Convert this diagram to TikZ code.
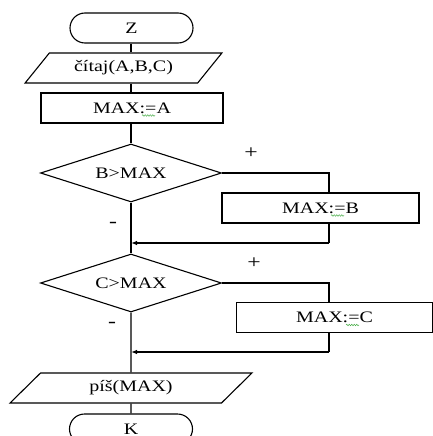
\documentclass[tikz,border=0pt]{standalone}
\usepackage{fontspec}
\setmainfont{Liberation Serif}[FakeStretch=1.25]
\usetikzlibrary{shapes.geometric,arrows.meta,decorations.pathmorphing}
\begin{document}
\begin{tikzpicture}[x=1pt,y=-1pt,
  every node/.style={font=\fontsize{16}{19}\selectfont, line width=1.1pt},
  term/.style={draw, rounded corners=15pt, minimum width=123pt, minimum height=30pt, inner sep=0pt},
  io/.style={draw, trapezium, trapezium stretches=true, minimum height=30pt, inner sep=0pt},
  proc/.style={draw, rectangle, minimum height=30pt, inner sep=0pt},
  dec/.style={draw, diamond, minimum width=181pt, minimum height=58pt, inner sep=0pt, aspect=3},
  flow/.style={line width=1.1pt},
  arr/.style={flow, -{Latex[length=6pt,width=4.5pt]}},
  sign/.style={font=\fontsize{19}{21}\selectfont},
  squig/.style={draw=black!45!green!70, line width=0.5pt, decorate, decoration={snake, segment length=2.5pt, amplitude=0.8pt}}]
\clip (0,0) rectangle (433,436);
\fill[white] (0,0) rectangle (433,436);
\node[term] (z) at (131.5,28) {Z};
\node[io, minimum width=197pt, trapezium left angle=42, trapezium right angle=138] (read) at (123.5,68) {čítaj(A,B,C)};
\node[proc, minimum width=182pt] (ma) at (132,108) {MAX:=A};
\node[dec] (b) at (131,173) {B>MAX};
\node[proc, minimum width=197pt] (mb) at (320.5,208) {MAX:=B};
\node[dec] (c) at (131,283) {C>MAX};
\node[proc, minimum width=196pt] (mc) at (334.5,317.5) {MAX:=C};
\node[io, minimum width=242pt, trapezium left angle=46, trapezium right angle=134] (write) at (131,388) {píš(MAX)};
\node[term] (k) at (131,429) {K};
\node[sign] (p1) at (251,153) {+};
\node[sign] (m1) at (113,225) {-};
\node[sign] (p2) at (254,263) {+};
\node[sign] (m2) at (112,325) {-};
\coordinate (jb) at (329,173);
\coordinate (kb) at (329,243);
\coordinate (jc) at (329,283);
\coordinate (kc) at (329,352);
\draw[flow] (b.north |- z.south) -- (b.north |- read.north);
\draw[flow] (b.north |- read.south) -- (b.north |- ma.north);
\draw[flow] (b.north |- ma.south) -- (b.north);
\draw[flow] (b.east) -- (jb) -- (jb |- mb.north);
\draw[flow] (jb |- mb.south) -- (kb);
\draw[arr] (kb) -- (kb -| b.south);
\draw[flow] (b.south) -- (c.north);
\draw[flow] (c.east) -- (jc) -- (jc |- mc.north);
\draw[flow] (jc |- mc.south) -- (kc);
\draw[arr] (kc) -- (kc -| c.south);
\draw[flow] (c.south) -- (write.north);
\draw[flow] (write.south) -- (k.north);
\draw[squig] (142,115.5) -- (155,115.5);
\draw[squig] (331,215.5) -- (344,215.5);
\draw[squig] (346,325) -- (359,325);
\end{tikzpicture}
\end{document}
